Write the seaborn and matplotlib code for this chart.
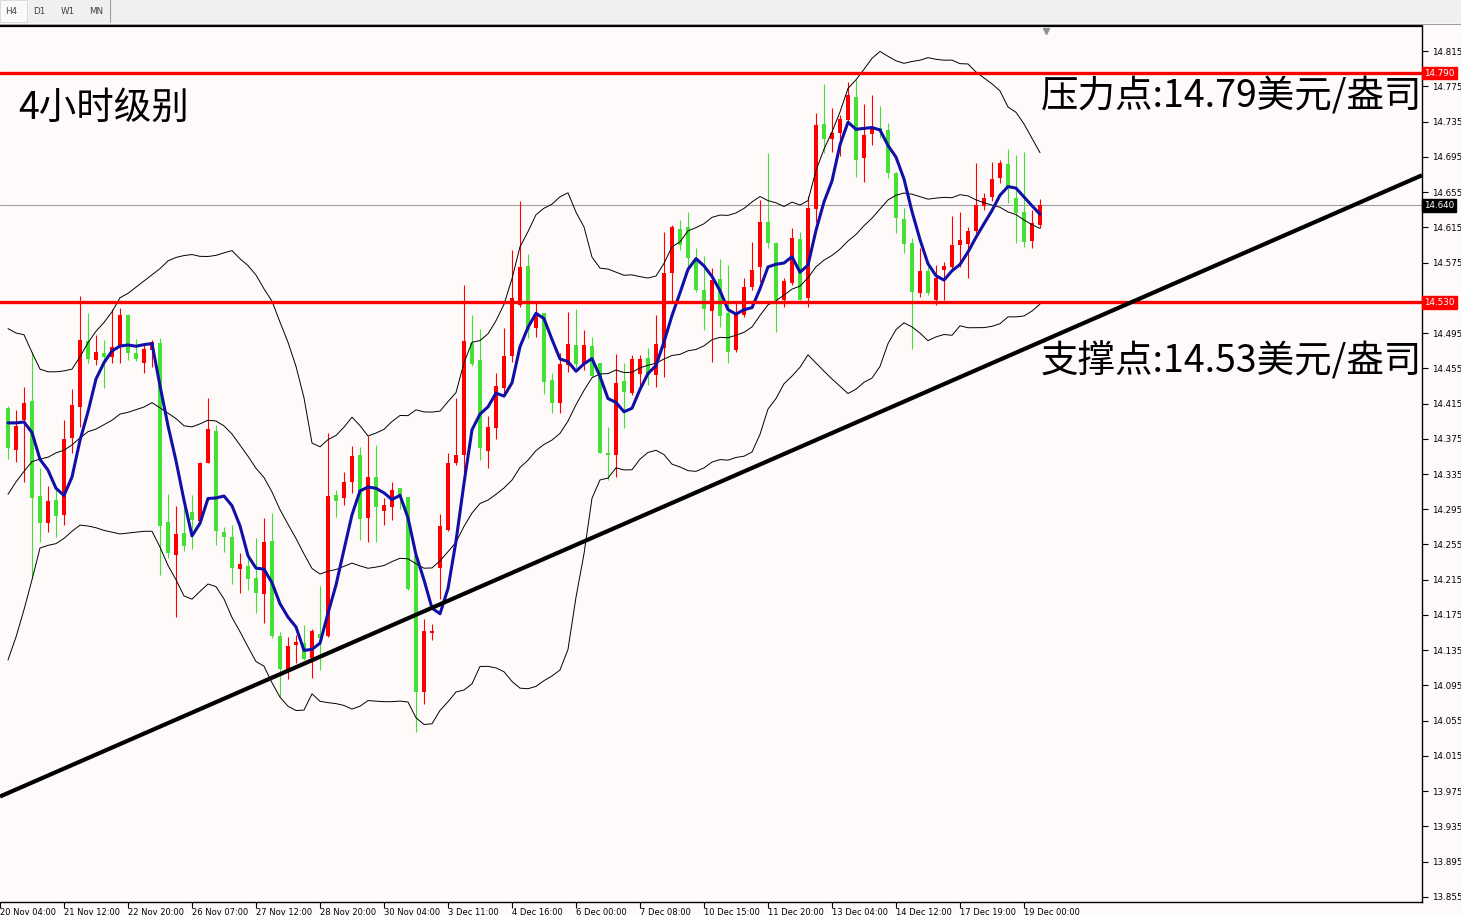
import numpy as np
import pandas as pd
import seaborn as sns
import matplotlib
matplotlib.use("Agg")
import matplotlib.pyplot as plt
import matplotlib.transforms as mtransforms
from matplotlib.patches import Rectangle
from matplotlib.lines import Line2D


# -------------------------------
# 1. Chart data (H4 candles)
# -------------------------------
open_prices = [
    14.410, 14.362, 14.396, 14.418, 14.310, 14.279, 14.306, 14.288, 14.376, 14.411,
    14.486, 14.464, 14.472, 14.468, 14.479, 14.515, 14.472, 14.461, 14.476, 14.484,
    14.281, 14.243, 14.268, 14.292, 14.282, 14.347, 14.384, 14.269, 14.264, 14.227,
    14.231, 14.217, 14.199, 14.259, 14.151, 14.113, 14.141, 14.143, 14.126, 14.153,
    14.151, 14.311, 14.308, 14.326, 14.357, 14.285, 14.332, 14.293, 14.297, 14.319,
    14.309, 14.242, 14.088, 14.155, 14.228, 14.271, 14.347, 14.357, 14.484, 14.464,
    14.361, 14.387, 14.433, 14.469, 14.527, 14.571, 14.501, 14.518, 14.442, 14.416,
    14.459, 14.481, 14.460, 14.480, 14.461, 14.359, 14.357, 14.441, 14.427, 14.449,
    14.467, 14.447, 14.478, 14.563, 14.613, 14.615, 14.580, 14.544, 14.520, 14.556,
    14.518, 14.476, 14.515, 14.547, 14.570, 14.621, 14.597, 14.533, 14.552, 14.602,
    14.535, 14.636, 14.732, 14.715, 14.722, 14.737, 14.763, 14.694, 14.721, 14.728,
    14.725, 14.677, 14.624, 14.597, 14.540, 14.565, 14.533, 14.567, 14.570, 14.595,
    14.596, 14.611, 14.639, 14.649, 14.671, 14.687, 14.648, 14.632, 14.599, 14.618,
]
high_prices = [
    14.412, 14.408, 14.434, 14.473, 14.342, 14.321, 14.317, 14.396, 14.432, 14.537,
    14.518, 14.493, 14.487, 14.522, 14.523, 14.517, 14.488, 14.481, 14.487, 14.489,
    14.312, 14.299, 14.297, 14.311, 14.349, 14.421, 14.391, 14.275, 14.277, 14.245,
    14.241, 14.262, 14.285, 14.291, 14.156, 14.150, 14.152, 14.164, 14.159, 14.208,
    14.382, 14.317, 14.337, 14.367, 14.366, 14.378, 14.368, 14.308, 14.326, 14.319,
    14.309, 14.243, 14.170, 14.165, 14.290, 14.359, 14.421, 14.550, 14.515, 14.500,
    14.401, 14.450, 14.501, 14.589, 14.645, 14.585, 14.529, 14.518, 14.450, 14.472,
    14.519, 14.522, 14.498, 14.491, 14.461, 14.388, 14.471, 14.461, 14.470, 14.470,
    14.478, 14.515, 14.610, 14.618, 14.623, 14.632, 14.591, 14.582, 14.569, 14.579,
    14.572, 14.529, 14.557, 14.598, 14.646, 14.699, 14.598, 14.557, 14.614, 14.610,
    14.650, 14.745, 14.778, 14.750, 14.742, 14.780, 14.782, 14.755, 14.765, 14.753,
    14.733, 14.678, 14.637, 14.603, 14.591, 14.570, 14.572, 14.576, 14.628, 14.632,
    14.615, 14.688, 14.654, 14.689, 14.691, 14.704, 14.697, 14.700, 14.635, 14.647,
]
low_prices = [
    14.352, 14.349, 14.326, 14.217, 14.258, 14.269, 14.264, 14.277, 14.359, 14.388,
    14.461, 14.459, 14.433, 14.461, 14.461, 14.464, 14.463, 14.450, 14.456, 14.220,
    14.240, 14.173, 14.248, 14.250, 14.281, 14.347, 14.254, 14.247, 14.210, 14.200,
    14.203, 14.177, 14.166, 14.149, 14.082, 14.102, 14.120, 14.124, 14.104, 14.113,
    14.150, 14.286, 14.300, 14.313, 14.260, 14.258, 14.258, 14.277, 14.283, 14.295,
    14.203, 14.042, 14.074, 14.147, 14.193, 14.270, 14.345, 14.337, 14.458, 14.351,
    14.342, 14.375, 14.425, 14.462, 14.525, 14.489, 14.491, 14.426, 14.404, 14.404,
    14.451, 14.455, 14.453, 14.445, 14.359, 14.328, 14.332, 14.387, 14.425, 14.434,
    14.436, 14.434, 14.445, 14.530, 14.589, 14.570, 14.542, 14.498, 14.462, 14.502,
    14.461, 14.473, 14.513, 14.544, 14.553, 14.591, 14.496, 14.525, 14.550, 14.533,
    14.525, 14.621, 14.699, 14.700, 14.696, 14.733, 14.672, 14.666, 14.708, 14.716,
    14.671, 14.608, 14.586, 14.477, 14.536, 14.538, 14.527, 14.533, 14.567, 14.570,
    14.557, 14.608, 14.635, 14.645, 14.665, 14.643, 14.597, 14.593, 14.591, 14.614,
]
close_prices = [
    14.365, 14.390, 14.416, 14.308, 14.279, 14.304, 14.287, 14.375, 14.413, 14.487,
    14.466, 14.473, 14.468, 14.479, 14.515, 14.472, 14.466, 14.477, 14.485, 14.276,
    14.245, 14.267, 14.253, 14.283, 14.347, 14.386, 14.270, 14.264, 14.228, 14.233,
    14.216, 14.200, 14.258, 14.151, 14.114, 14.140, 14.144, 14.125, 14.157, 14.149,
    14.310, 14.304, 14.326, 14.355, 14.284, 14.332, 14.297, 14.300, 14.317, 14.308,
    14.204, 14.088, 14.157, 14.157, 14.276, 14.347, 14.357, 14.486, 14.460, 14.365,
    14.388, 14.435, 14.469, 14.535, 14.570, 14.498, 14.515, 14.439, 14.416, 14.460,
    14.483, 14.460, 14.481, 14.446, 14.359, 14.357, 14.438, 14.428, 14.466, 14.466,
    14.447, 14.483, 14.563, 14.615, 14.595, 14.580, 14.544, 14.522, 14.555, 14.514,
    14.473, 14.518, 14.547, 14.567, 14.621, 14.597, 14.533, 14.554, 14.603, 14.533,
    14.637, 14.731, 14.715, 14.722, 14.738, 14.765, 14.691, 14.720, 14.727, 14.724,
    14.677, 14.625, 14.596, 14.542, 14.565, 14.540, 14.557, 14.571, 14.595, 14.601,
    14.611, 14.640, 14.648, 14.670, 14.688, 14.660, 14.631, 14.598, 14.620, 14.640,
]

# indicator values at the left edge (history before the window is off-screen)
ma_head = [14.393, 14.393, 14.394, 14.382]
bb_upper_head = [14.500, 14.495, 14.493, 14.473, 14.454, 14.451, 14.451, 14.452, 14.454, 14.468,
                 14.484, 14.497, 14.507, 14.519, 14.535, 14.540, 14.547, 14.554, 14.561]
bb_mid_head = [14.312, 14.326, 14.338, 14.349, 14.352, 14.354, 14.359, 14.362, 14.368, 14.376,
               14.383, 14.386, 14.391, 14.396, 14.403, 14.405, 14.408, 14.411, 14.416]
bb_lower_head = [14.124, 14.150, 14.181, 14.215, 14.251, 14.254, 14.256, 14.262, 14.270, 14.277,
                 14.276, 14.274, 14.271, 14.269, 14.267, 14.268, 14.269, 14.270, 14.270]

# horizontal levels and trend line
resistance = 14.790
support = 14.530
trend_bars = [-1.0, 176.75]
trend_prices = [13.969, 14.674]

# axis ticks
price_ticks = [13.855, 13.895, 13.935, 13.975, 14.015, 14.055, 14.095, 14.135, 14.175,
               14.215, 14.255, 14.295, 14.335, 14.375, 14.415, 14.455, 14.495, 14.535,
               14.575, 14.615, 14.655, 14.695, 14.735, 14.775, 14.815]
date_tick_bars = [-1, 7, 15, 23, 31, 39, 47, 55, 63, 71, 79, 87, 95, 103, 111, 119, 127]
date_tick_labels = ["20 Nov 04:00", "21 Nov 12:00", "22 Nov 20:00", "26 Nov 07:00",
                    "27 Nov 12:00", "28 Nov 20:00", "30 Nov 04:00", "3 Dec 11:00",
                    "4 Dec 16:00", "6 Dec 00:00", "7 Dec 08:00", "10 Dec 15:00",
                    "11 Dec 20:00", "13 Dec 04:00", "14 Dec 12:00", "17 Dec 19:00",
                    "19 Dec 00:00"]
timeframe_tabs = ["H4", "D1", "W1", "MN"]

UP_COLOR = "#ff0000"
DOWN_COLOR = "#44e033"
BG_COLOR = "#fffafa"
W, H = 1461, 915


# -------------------------------
# 2. Indicators
# -------------------------------
def build_indicators():
    """SMA(5) and Bollinger(20, 2) of the close."""
    close = pd.Series(close_prices, dtype=float)
    df = pd.DataFrame({"bar": np.arange(len(close))})
    df["ma"] = close.rolling(5).mean()
    df["mid"] = close.rolling(20).mean()
    std = close.rolling(20).std(ddof=0)
    df["upper"] = df["mid"] + 2 * std
    df["lower"] = df["mid"] - 2 * std

    df.loc[:len(ma_head) - 1, "ma"] = ma_head
    df.loc[:len(bb_mid_head) - 1, "mid"] = bb_mid_head
    df.loc[:len(bb_upper_head) - 1, "upper"] = bb_upper_head
    df.loc[:len(bb_lower_head) - 1, "lower"] = bb_lower_head
    return df


# -------------------------------
# 3. Candles
# -------------------------------
def draw_candles(ax):
    o = np.array(open_prices)
    h = np.array(high_prices)
    l = np.array(low_prices)
    c = np.array(close_prices)
    bars = np.arange(len(c))
    colors = np.where(c >= o, UP_COLOR, DOWN_COLOR)

    ax.vlines(bars, l, h, colors=colors, linewidth=0.8, zorder=2)
    bottoms = np.minimum(o, c)
    heights = np.maximum(np.abs(c - o), 0.0012)
    ax.bar(bars, heights, bottom=bottoms, width=0.62, color=colors, linewidth=0, zorder=2.1)


# -------------------------------
# 4. Main figure
# -------------------------------
def main():
    sns.set_theme(style="white")
    plt.rcParams["font.family"] = ["DejaVu Sans"]

    fig = plt.figure(figsize=(W / 100, H / 100), dpi=100, facecolor=BG_COLOR)
    ax = fig.add_axes([0, (H - 902) / H, 1422 / W, (902 - 26) / H])
    ax.set_facecolor(BG_COLOR)

    ind = build_indicators()

    # current price line under the candles
    ax.axhline(close_prices[-1], color="#a0a0a0", linewidth=0.8, zorder=1)

    draw_candles(ax)

    for col in ["upper", "mid", "lower"]:
        sns.lineplot(data=ind, x="bar", y=col, ax=ax, color="black", linewidth=0.7,
                     estimator=None, zorder=3)
    sns.lineplot(data=ind, x="bar", y="ma", ax=ax, color="#1010a8", linewidth=2.2,
                 estimator=None, zorder=4)

    ax.axhline(resistance, color="#ff0000", linewidth=2.4, zorder=5)
    ax.axhline(support, color="#ff0000", linewidth=2.4, zorder=5)
    ax.plot(trend_bars, trend_prices, color="black", linewidth=3.0, zorder=6,
            solid_capstyle="butt")

    # axes limits / ticks
    ax.set_xlim(-1.0, 176.75)
    ax.set_ylim(13.8493, 14.8434)
    ax.set_xlabel("")
    ax.set_ylabel("")

    ax.yaxis.tick_right()
    ax.set_yticks(price_ticks)
    # the 14.535 label sits under the 14.530 support box, so it is left blank
    ax.set_yticklabels(["" if abs(p - support) < 0.01 else f"{p:.3f}" for p in price_ticks])
    ax.set_xticks(date_tick_bars)
    ax.set_xticklabels(date_tick_labels, ha="left")
    ax.tick_params(axis="y", right=True, length=4, width=0.8, pad=3, labelsize=6.3,
                   colors="black", direction="out")
    ax.tick_params(axis="x", bottom=True, length=4, width=0.8, pad=0, labelsize=6.0,
                   colors="black", direction="out")

    for side in ["right", "bottom", "top"]:
        ax.spines[side].set_visible(True)
        ax.spines[side].set_color("black")
        ax.spines[side].set_linewidth(1.0)
    ax.spines["top"].set_linewidth(1.6)
    ax.spines["left"].set_visible(False)

    # price boxes on the axis
    tr = mtransforms.blended_transform_factory(ax.transAxes, ax.transData)
    for price, face in [(resistance, "#ff0000"), (close_prices[-1], "black"), (support, "#ff0000")]:
        ax.text(1.0016, price, f"{price:.3f}", transform=tr, ha="left", va="center",
                fontsize=6.3, color="white", zorder=10, clip_on=False,
                bbox=dict(boxstyle="square,pad=0.22", fc=face, ec=face))

    # annotations
    cjk = ["Noto Sans CJK SC", "DejaVu Sans"]
    fig.text(18 / W, 1 - 108 / H, "4小时级别", family=cjk, fontsize=27, fontweight="medium",
             va="center", ha="left", color="black")
    fig.text(1041 / W, 1 - 97 / H, "压力点:14.79美元/盎司", family=cjk, fontsize=27,
             fontweight="medium", va="center", ha="left", color="black")
    fig.text(1041 / W, 1 - 362 / H, "支撑点:14.53美元/盎司", family=cjk, fontsize=27,
             fontweight="medium", va="center", ha="left", color="black")

    # timeframe tab strip on top
    fig.patches.append(Rectangle((0, 1 - 23 / H), 1, 23 / H, transform=fig.transFigure,
                                 fc="#f0f0f0", ec="none", zorder=0))
    fig.patches.append(Rectangle((0, 1 - 22 / H), 27 / W, 22 / H, transform=fig.transFigure,
                                 fc="#fafafa", ec="#d8d8d8", lw=0.6, zorder=1))
    for k, name in enumerate(timeframe_tabs):
        fig.text((5 + 28 * k) / W, 1 - 12 / H, name, fontsize=6.3, color="#404040",
                 va="center", ha="left")
    fig.add_artist(Line2D([110 / W, 110 / W], [1 - 22 / H, 1.0], transform=fig.transFigure,
                          color="#a0a0a0", lw=0.8))
    fig.add_artist(Line2D([0, 1], [1 - 23.5 / H, 1 - 23.5 / H], transform=fig.transFigure,
                          color="#a0a0a0", lw=0.8))
    fig.add_artist(Line2D([1046 / W], [1 - 31 / H], transform=fig.transFigure, marker="v",
                          color="#909090", markersize=4, linestyle="none"))

    fig.savefig("out.png", dpi=100, facecolor=BG_COLOR)


if __name__ == "__main__":
    main()
